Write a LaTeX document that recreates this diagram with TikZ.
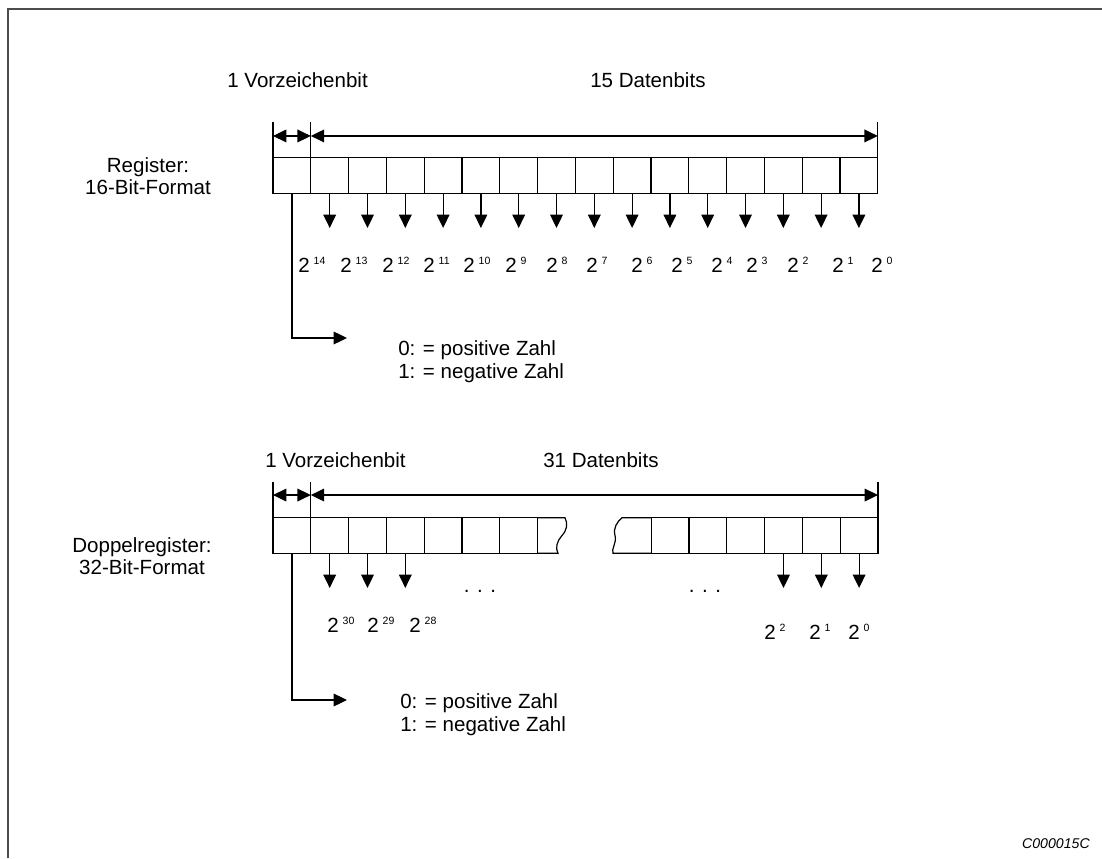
\documentclass[tikz,border=0pt]{standalone}
\usepackage{fontspec}
\setmainfont{Liberation Sans}
\usetikzlibrary{arrows.meta}

\newcommand{\pot}[1]{2\hspace{3pt}\raisebox{6pt}{\fontsize{7.9}{8}\selectfont #1}}

\begin{document}
\begin{tikzpicture}[x=0.75pt, y=0.75pt, >={Triangle[length=10pt,width=9.5pt]},
            % Styles
            cell/.style={rectangle, draw, line width=0.9pt, minimum width=28.35pt, minimum height=26.7pt, inner sep=0pt, outer sep=0pt},
            lbl/.style={inner sep=0pt, font=\fontsize{15.4}{16.5}\selectfont},
            reglabel/.style={lbl, align=center},
            signtext/.style={lbl, align=left, font=\fontsize{15.4}{17.5}\selectfont},
            powlbl/.style={lbl, anchor=base west},
            line/.style={draw, line width=0.9pt},
            bitline/.style={draw, ->, line width=0.9pt},
            dimline/.style={draw, <->, line width=0.9pt},
            frame/.style={draw, black!70, line width=1.2pt}
        ]
        \useasboundingbox (0,0) rectangle (1102,858);

        % Frame
        \draw[frame] (8,0) -- (8,849) -- (1102,849);

        % Register 16 bit
        \node[reglabel] (reg16) at (148,682) {Register:\\16-Bit-Format};
        \foreach \i in {0,...,15}
            \node[cell] (r\i) at ({273+37.8*\i+18.9},682.5) {};

        \node[lbl, anchor=base east] (vz16) at (368,770.7) {1 Vorzeichenbit};
        \node[lbl, anchor=base west] (db16) at (590,770) {15 Datenbits};

        \draw[line] (r0.north west) -- ++(0,36);
        \draw[line] (r1.north west) -- ++(0,36);
        \draw[line] (r15.north east) -- ++(0,36);
        \draw[dimline] ([yshift=16.3pt]r0.north west) -- ([yshift=16.3pt]r1.north west);
        \draw[dimline] ([yshift=16.3pt]r1.north west) -- ([yshift=16.3pt]r15.north east);

        \foreach \i in {1,...,15}
            \draw[bitline] (r\i.south) -- ++(0,-34.7);

        \foreach \x/\e in {299/14, 341/13, 383/12, 424/11, 464/10, 506/9, 547/8, 587/7,
                           632/6, 672/5, 712/4, 747/3, 788/2, 833/1, 872/0}
            \node[powlbl] (pa\e) at (\x-1,585) {\pot{\e}};

        \coordinate (sgn16) at (347,520);
        \draw[line, ->] (r0.south) |- (sgn16);
        \node[signtext, anchor=west] (txt16) at (398,496) {0: = positive Zahl\\1: = negative Zahl};

        % Doppelregister 32 bit
        \node[reglabel] (reg32) at (142,302) {Doppelregister:\\32-Bit-Format};
        \foreach \i in {0,...,6}
            \node[cell] (b\i) at ({273+37.8*\i+18.9},322.5) {};
        \foreach \i in {26,...,31}
            \node[cell] (b\i) at ({878-37.8*(31-\i)-18.9},322.5) {};

        % broken ends
        \draw[line] (b6.north east) -- (565,340.3) .. controls (568,334) and (567,328) .. (562,322.5)
            .. controls (557,317) and (555,310) .. (558,304.7) -- (b6.south east);
        \draw[line] (b26.north west) -- (622,340.3) .. controls (617,336) and (613,330) .. (615,322.5)
            .. controls (617,315) and (611,309) .. (613,304.7) -- (b26.south west);

        \node[lbl, anchor=base west] (vz32) at (265,390.7) {1 Vorzeichenbit};
        \node[lbl, anchor=base west] (db32) at (543,390.7) {31 Datenbits};

        \draw[line] (b0.north west) -- ++(0,36);
        \draw[line] (b1.north west) -- ++(0,36);
        \draw[line] (b31.north east) -- ++(0,36);
        \draw[dimline] ([yshift=17pt]b0.north west) -- ([yshift=17pt]b1.north west);
        \draw[dimline] ([yshift=17pt]b1.north west) -- ([yshift=17pt]b31.north east);

        \foreach \i in {1,2,3,29,30,31}
            \draw[bitline] (b\i.south) -- ++(0,-34.7);

        \node[lbl, anchor=base] (dotsl) at (480,265.5) {. . .};
        \node[lbl, anchor=base] (dotsr) at (705,265.5) {. . .};

        \foreach \x/\e in {328/30, 368/29, 410/28}
            \node[powlbl] (pb\e) at (\x-1,226) {\pot{\e}};
        \foreach \x/\e in {765/2, 810/1, 849/0}
            \node[powlbl] (pb\e) at (\x-1,219) {\pot{\e}};

        \coordinate (sgn32) at (347,158);
        \draw[line, ->] (b0.south) |- (sgn32);
        \node[signtext, anchor=west] (txt32) at (400,143) {0: = positive Zahl\\1: = negative Zahl};

        % Code
        \node[lbl, font=\fontsize{10.6}{12}\selectfont\itshape, anchor=base east] (code) at (1090,10) {C000015C};
\end{tikzpicture}
\end{document}
